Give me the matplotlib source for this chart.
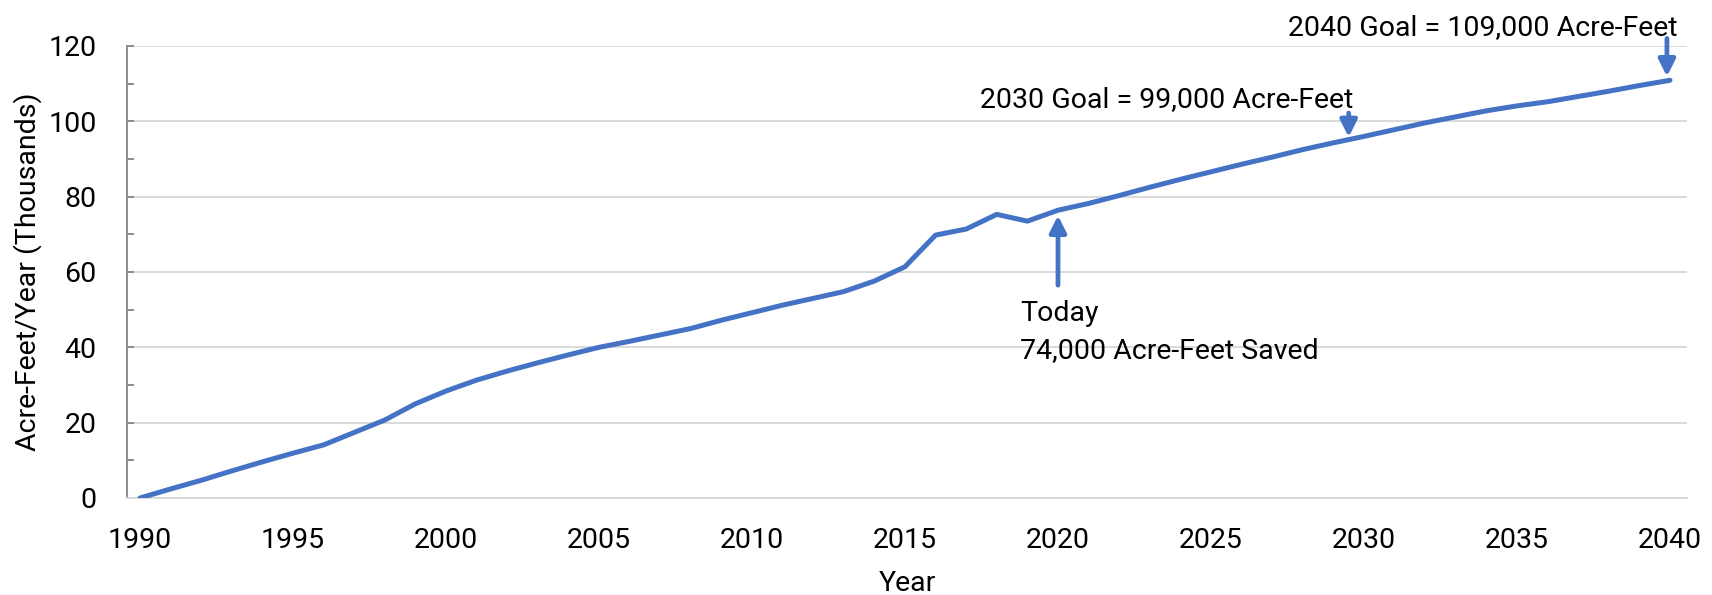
import matplotlib
matplotlib.use("Agg")
import matplotlib.pyplot as plt
import numpy as np

plt.rcParams['font.family'] = ['Roboto', 'DejaVu Sans']

# data (thousands of acre-feet per year)
years = list(range(1990, 2041))
saved = [0.0, 2.4, 4.7, 7.2, 9.6, 11.9, 14.1, 17.4, 20.7, 25.0,
         28.4, 31.3, 33.7, 35.9, 38.0, 40.0, 41.6, 43.3, 45.0, 47.2,
         49.2, 51.2, 53.0, 54.8, 57.6, 61.4, 69.8, 71.4, 75.3, 73.5,
         76.4, 78.2, 80.3, 82.5, 84.6, 86.6, 88.6, 90.5, 92.5, 94.3,
         96.0, 97.8, 99.6, 101.2, 102.8, 104.1, 105.2, 106.6, 108.0, 109.5,
         110.9]
x_ticks = [1990, 1995, 2000, 2005, 2010, 2015, 2020, 2025, 2030, 2035, 2040]
y_ticks = [0, 20, 40, 60, 80, 100, 120]

today_year = 2020
today_text = "Today\n74,000 Acre-Feet Saved"
goal_2030_year = 2029.5
goal_2030_text = "2030 Goal = 99,000 Acre-Feet"
goal_2040_year = 2039.9
goal_2040_text = "2040 Goal = 109,000 Acre-Feet"

blue = '#4472C4'
grid_c = '#d9d9d9'
axis_c = '#8c8c8c'
fs = 20.5

fig = plt.figure(figsize=(17.12, 5.95), dpi=100)
ax = fig.add_axes([127/1712, 1-498/595, 1560/1712, 452/595])

ax.plot(years, saved, color=blue, lw=3.6, solid_capstyle='round', zorder=3)

ax.set_xlim(1989.575, 2040.556)
ax.set_ylim(0, 120)
ax.set_xticks(x_ticks)
ax.set_yticks(y_ticks)
ax.set_yticks(np.arange(10, 120, 20), minor=True)

ax.grid(axis='y', color=grid_c, lw=1.4, zorder=0)
for s in ['top', 'right']:
    ax.spines[s].set_visible(False)
ax.spines['bottom'].set_color(grid_c)
ax.spines['bottom'].set_linewidth(1.4)
ax.spines['left'].set_color(axis_c)
ax.spines['left'].set_linewidth(1.4)

ax.tick_params(axis='x', length=0, pad=21, labelsize=fs, labelcolor='black')
ax.tick_params(axis='y', which='both', direction='in', length=5, width=1.4,
               color=axis_c, pad=22, labelsize=fs)
ax.tick_params(axis='x', which='minor', length=0)

ax.set_ylabel("Acre-Feet/Year (Thousands)", fontsize=fs)
ax.yaxis.set_label_coords(-0.0547, 0.5)
ax.set_xlabel("Year", fontsize=fs)
ax.xaxis.set_label_coords(0.5, -0.16)

arrow = dict(arrowstyle='-|>,head_length=0.5,head_width=0.25', color=blue,
             lw=3.4, shrinkA=0, shrinkB=0, mutation_scale=20)

# Today
ax.annotate('', xy=(today_year, 75.0), xytext=(today_year, 56.5),
            arrowprops=arrow, annotation_clip=False)
ax.text(2018.76, 52.6, today_text, fontsize=fs, ha='left', va='top',
        linespacing=1.5)

# 2030 goal
ax.annotate('', xy=(goal_2030_year, 95.8), xytext=(goal_2030_year, 102.2),
            arrowprops=arrow, annotation_clip=False)
ax.text(2029.66, 103.8, goal_2030_text, fontsize=fs, ha='right', va='baseline')

# 2040 goal
ax.annotate('', xy=(goal_2040_year, 111.9), xytext=(goal_2040_year, 122.0),
            arrowprops=arrow, annotation_clip=False)
ax.text(2040.24, 123.0, goal_2040_text, fontsize=fs, ha='right', va='baseline',
        clip_on=False)

fig.savefig("out.png", dpi=100)
